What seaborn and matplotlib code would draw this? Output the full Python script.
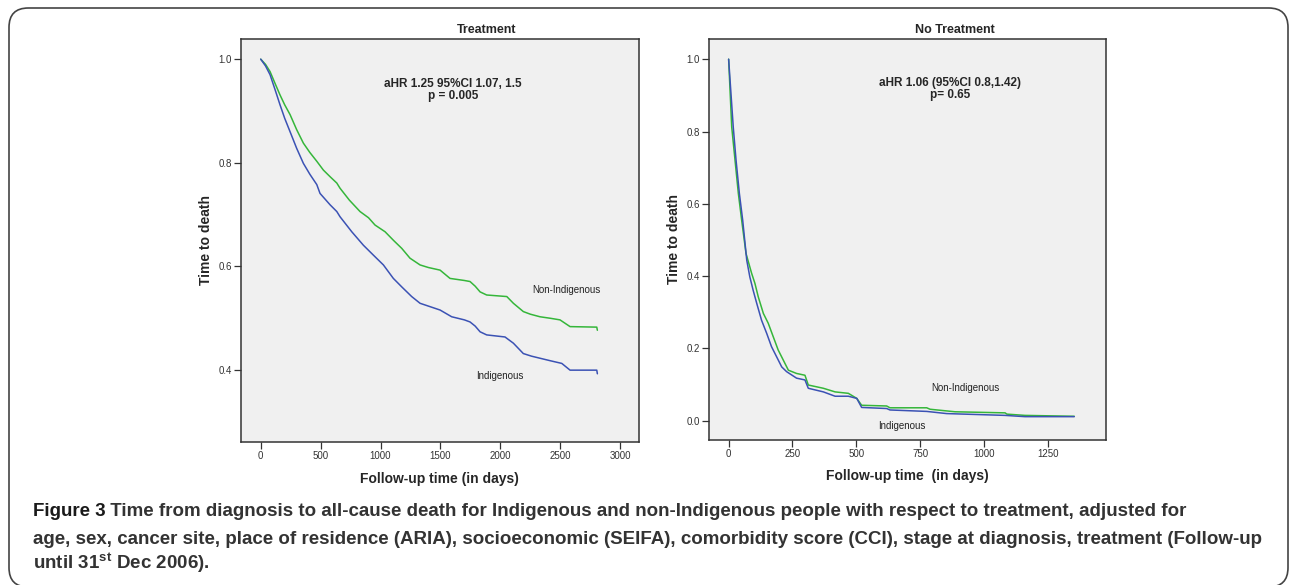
import matplotlib

matplotlib.use("Agg")
import matplotlib.pyplot as plt
import pandas as pd
import seaborn as sns
from matplotlib.patches import FancyBboxPatch

# Treatment panel (days, survival)
tr_non_days = [0, 40, 78, 120, 161, 200, 245, 300, 356, 410, 468, 523, 580, 635, 662, 740,
               829, 900, 954, 1038, 1110, 1177, 1246, 1330, 1400, 1497, 1580, 1700, 1747,
               1790, 1831, 1886, 2054, 2109, 2192, 2250, 2331, 2420, 2498, 2582, 2805, 2810]
tr_non_surv = [1.0, 0.990, 0.976, 0.953, 0.931, 0.912, 0.893, 0.864, 0.838, 0.820, 0.803,
               0.786, 0.773, 0.761, 0.751, 0.728, 0.706, 0.694, 0.680, 0.667, 0.650, 0.635,
               0.616, 0.603, 0.598, 0.593, 0.577, 0.573, 0.571, 0.562, 0.551, 0.545, 0.542,
               0.529, 0.513, 0.508, 0.503, 0.500, 0.497, 0.484, 0.483, 0.477]
tr_ind_days = [0, 40, 78, 120, 161, 200, 245, 300, 356, 410, 468, 495, 579, 635, 662, 760,
               857, 940, 1024, 1107, 1180, 1260, 1330, 1420, 1497, 1594, 1700, 1747, 1790,
               1831, 1886, 2039, 2109, 2192, 2260, 2331, 2420, 2513, 2582, 2805, 2810]
tr_ind_surv = [1.0, 0.987, 0.970, 0.941, 0.912, 0.886, 0.860, 0.828, 0.799, 0.778, 0.758,
               0.741, 0.719, 0.706, 0.696, 0.667, 0.641, 0.622, 0.603, 0.577, 0.560, 0.542,
               0.529, 0.522, 0.516, 0.503, 0.497, 0.493, 0.485, 0.474, 0.468, 0.464, 0.452,
               0.432, 0.427, 0.423, 0.418, 0.413, 0.400, 0.400, 0.393]

# No treatment panel
nt_non_days = [0, 12, 25, 38, 51, 68, 90, 103, 116, 136, 155, 175, 194, 214, 234, 266,
               299, 312, 371, 417, 469, 502, 521, 619, 632, 776, 789, 887, 1083, 1090,
               1161, 1354]
nt_non_surv = [1.0, 0.813, 0.721, 0.629, 0.555, 0.463, 0.408, 0.380, 0.343, 0.297, 0.270,
               0.232, 0.196, 0.168, 0.140, 0.131, 0.126, 0.099, 0.090, 0.080, 0.076, 0.062,
               0.043, 0.041, 0.036, 0.036, 0.032, 0.025, 0.022, 0.0185, 0.015, 0.0125]
nt_ind_days = [0, 18, 29, 42, 55, 71, 83, 96, 110, 129, 149, 168, 188, 208, 227, 266,
               299, 312, 371, 417, 469, 502, 521, 619, 632, 776, 854, 1083, 1161, 1354]
nt_ind_surv = [1.0, 0.813, 0.721, 0.629, 0.555, 0.444, 0.398, 0.361, 0.325, 0.278, 0.242,
               0.205, 0.177, 0.149, 0.136, 0.118, 0.113, 0.090, 0.080, 0.068, 0.068, 0.062,
               0.037, 0.034, 0.030, 0.026, 0.020, 0.015, 0.0115, 0.0115]

groups = ["Non-Indigenous", "Indigenous"]
palette = {"Non-Indigenous": "#35b63a", "Indigenous": "#3b52b4"}

caption_bold = "Figure 3"
caption_lines = [
    " Time from diagnosis to all-cause death for Indigenous and non-Indigenous people "
    "with respect to treatment, adjusted for",
    "age, sex, cancer site, place of residence (ARIA), socioeconomic (SEIFA), "
    "comorbidity score (CCI), stage at diagnosis, treatment (Follow-up",
    r"until 31$^{\mathregular{st}}$ Dec 2006).",
]

sns.set_theme(style="ticks")
plt.rcParams["font.family"] = ["Liberation Sans", "DejaVu Sans"]
W, H = 1290, 585


def make_frame(non_d, non_s, ind_d, ind_s):
    rows = []
    for d, s in zip(non_d, non_s):
        rows.append({"day": d, "surv": s, "group": groups[0]})
    for d, s in zip(ind_d, ind_s):
        rows.append({"day": d, "surv": s, "group": groups[1]})
    return pd.DataFrame(rows)


def style_axis(ax, xticks, yticks):
    ax.set_facecolor("#f0f0f0")
    for sp in ax.spines.values():
        sp.set_color("#333333")
        sp.set_linewidth(1.1)
    ax.set_xticks(xticks)
    ax.set_yticks(yticks)
    ax.set_yticklabels([f"{v:.1f}" for v in yticks])
    ax.tick_params(direction="out", length=5, width=0.9, color="#333333",
                   labelsize=7, labelcolor="#333333", pad=1.5)
    ax.set_ylabel("Time to death", fontsize=10, fontweight="bold", labelpad=4)


fig = plt.figure(figsize=(W / 100, H / 100), dpi=100)

# left panel: Treatment
ax1 = fig.add_axes([0.1866, 0.2450, 0.3088, 0.6884])
df1 = make_frame(tr_non_days, tr_non_surv, tr_ind_days, tr_ind_surv)
sns.lineplot(data=df1, x="day", y="surv", hue="group", palette=palette,
             estimator=None, sort=False, legend=False, linewidth=1.1, ax=ax1)
ax1.set_xlim(-167, 3158)
ax1.set_ylim(0.262, 1.039)
style_axis(ax1, [0, 500, 1000, 1500, 2000, 2500, 3000], [0.4, 0.6, 0.8, 1.0])
ax1.set_xlabel("Follow-up time (in days)", fontsize=10, fontweight="bold", labelpad=8)
ax1.text(1605, 0.94, "aHR 1.25 95%CI 1.07, 1.5\np = 0.005", ha="center", va="center",
         fontsize=8.5, fontweight="bold", linespacing=1.0)
ax1.text(2552, 0.554, "Non-Indigenous", ha="center", va="center", fontsize=7, color="#222222")
ax1.text(1992, 0.389, "Indigenous", ha="center", va="center", fontsize=7, color="#222222")

# right panel: No Treatment
ax2 = fig.add_axes([0.5496, 0.2479, 0.3075, 0.6855])
df2 = make_frame(nt_non_days, nt_non_surv, nt_ind_days, nt_ind_surv)
sns.lineplot(data=df2, x="day", y="surv", hue="group", palette=palette,
             estimator=None, sort=False, legend=False, linewidth=1.1, ax=ax2)
ax2.set_xlim(-77, 1477)
ax2.set_ylim(-0.053, 1.056)
style_axis(ax2, [0, 250, 500, 750, 1000, 1250], [0.0, 0.2, 0.4, 0.6, 0.8, 1.0])
ax2.set_xlabel("Follow-up time  (in days)", fontsize=10, fontweight="bold", labelpad=7)
ax2.text(867, 0.917, "aHR 1.06 (95%CI 0.8,1.42)\np= 0.65", ha="center", va="center",
         fontsize=8.5, fontweight="bold", linespacing=1.0)
ax2.text(926, 0.090, "Non-Indigenous", ha="center", va="center", fontsize=7, color="#222222")
ax2.text(680, -0.014, "Indigenous", ha="center", va="center", fontsize=7, color="#222222")

# panel titles (SPSS puts them right of the axes centre)
fig.text(486.7 / W, 1 - 29.7 / H, "Treatment", ha="center", va="center",
         fontsize=9, fontweight="bold")
fig.text(955 / W, 1 - 29.7 / H, "No Treatment", ha="center", va="center",
         fontsize=9, fontweight="bold")

# rounded frame around the figure
frame = FancyBboxPatch((9 / W, -2 / H), 1279 / W, 579 / H,
                       boxstyle="round,pad=0,rounding_size=0.015",
                       transform=fig.transFigure, fill=False, edgecolor="#444444",
                       linewidth=1.2, mutation_aspect=W / H)
fig.patches.append(frame)

# caption: size fitted so that the long lines span the same width as the reference
cap_x = 33
cap_base = [516, 544, 569]
size = 12
renderer = fig.canvas.get_renderer()


def measure(s):
    t = fig.text(0, 0, s, fontsize=size, fontweight="bold")
    w = t.get_window_extent(renderer).width
    t.remove()
    return w


wa = measure(caption_bold)
w1 = wa + measure(caption_lines[0])
w2 = measure(caption_lines[1])
scale = min(1235 / w1, 1225 / w2)
size = size * scale
wa = wa * scale

fig.text(cap_x / W, 1 - cap_base[0] / H, caption_bold, fontsize=size, fontweight="bold",
         va="baseline", color="#1a1a1a")
fig.text((cap_x + wa) / W, 1 - cap_base[0] / H, caption_lines[0], fontsize=size,
         fontweight="bold", va="baseline", color="#333333")
for line, yb in zip(caption_lines[1:], cap_base[1:]):
    fig.text(cap_x / W, 1 - yb / H, line, fontsize=size, fontweight="bold",
             va="baseline", color="#333333")

fig.savefig("out.png", dpi=100)
